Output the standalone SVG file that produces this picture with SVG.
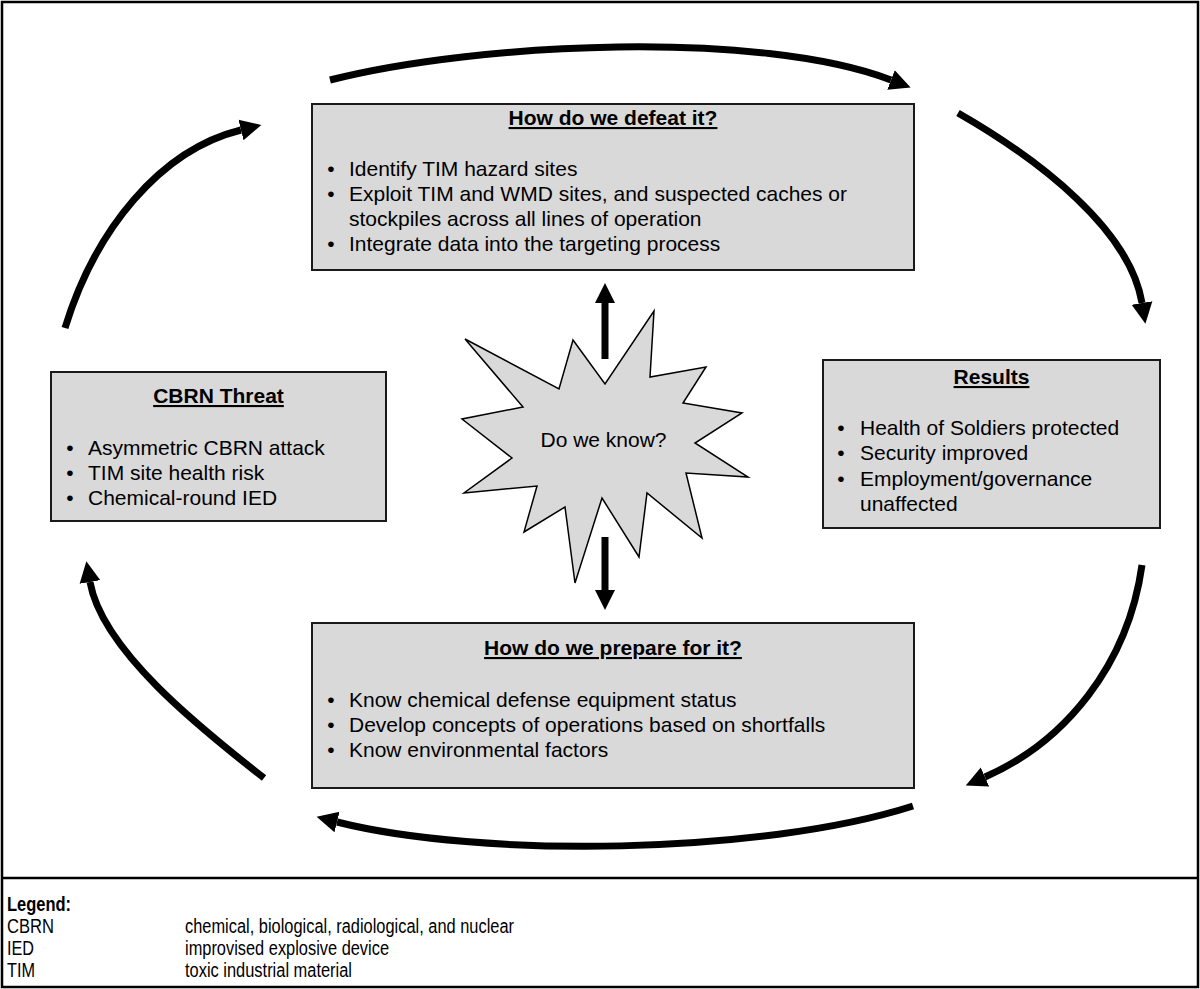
<svg xmlns="http://www.w3.org/2000/svg" width="1200" height="989" viewBox="0 0 1200 989">
<defs>
<style>
text{font-family:"Liberation Sans",Arial,sans-serif;fill:#000}
.t{font-size:21px;font-weight:bold;text-anchor:middle;text-decoration:underline}
.b{font-size:21px}
.d{font-size:21px;text-anchor:middle}
.box{fill:#d9d9d9;stroke:#1a1a1a;stroke-width:2}
.c{fill:none;stroke:#000;stroke-width:7;marker-end:url(#ah)}
.lg{font-family:"Liberation Sans Narrow","Liberation Sans",Arial,sans-serif;font-size:20px}
</style>
<marker id="ah" markerUnits="userSpaceOnUse" markerWidth="24" markerHeight="24" viewBox="0 -12 24 24" refX="0" refY="0" orient="auto">
<path d="M0,-10.5 L21,0 L0,10.5 z" fill="#000"/>
</marker>
</defs>
<rect x="0" y="0" width="1200" height="989" fill="#fff"/>
<rect x="2" y="2" width="1196" height="985" fill="none" stroke="#000" stroke-width="2.5"/>
<line x1="2" y1="878" x2="1198" y2="878" stroke="#000" stroke-width="2.5"/>

<g id="connectors">
<path class="c" d="M330,80 C480,42 760,30 891,80"/>
<path class="c" d="M958,113 C1040,160 1130,230 1142,303"/>
<path class="c" d="M1142,565 C1128,665 1065,742 985,777"/>
<path class="c" d="M913,806 C760,855 480,858 337,822"/>
<path class="c" d="M264,778 C200,728 102,650 90,582"/>
<path class="c" d="M65,328 C95,230 160,150 241,130"/>
<polygon points="601.5,359 601.5,303 595,303 605,283 615,303 608.5,303 608.5,359" fill="#000"/>
<polygon points="601.5,537 608.5,537 608.5,590 615,590 605,610 595,590 601.5,590" fill="#000"/>
</g>

<g id="defeat">
<rect class="box" x="312" y="104" width="602" height="166"/>
<text class="t" x="613" y="125">How do we defeat it?</text>
<text class="d" x="331" y="176">•</text><text class="b" x="349" y="176">Identify TIM hazard sites</text>
<text class="d" x="331" y="201">•</text><text class="b" x="349" y="201">Exploit TIM and WMD sites, and suspected caches or</text>
<text class="b" x="349" y="226">stockpiles across all lines of operation</text>
<text class="d" x="331" y="251">•</text><text class="b" x="349" y="251">Integrate data into the targeting process</text>
</g>

<g id="threat">
<rect class="box" x="51" y="372" width="335" height="149"/>
<text class="t" x="218.5" y="403">CBRN Threat</text>
<text class="d" x="70" y="455">•</text><text class="b" x="88" y="455">Asymmetric CBRN attack</text>
<text class="d" x="70" y="480">•</text><text class="b" x="88" y="480">TIM site health risk</text>
<text class="d" x="70" y="505">•</text><text class="b" x="88" y="505">Chemical-round IED</text>
</g>

<g id="know">
<polygon points="465,339 559,389 573,340 605,384 654,311 650,377 706,367 683,403 742,413 695,443 748,477 686,473 702,538 647,493 639,557 602,498 575,583 565,507 524,532 537,486 464,493 512,458 462,419 523,407" fill="#d9d9d9" stroke="#000" stroke-width="1.5" stroke-linejoin="miter"/>
<text class="d" x="603.5" y="447">Do we know?</text>
</g>

<g id="results">
<rect class="box" x="823" y="360" width="337" height="168"/>
<text class="t" x="991.5" y="384">Results</text>
<text class="d" x="841" y="435">•</text><text class="b" x="860" y="435">Health of Soldiers protected</text>
<text class="d" x="841" y="460">•</text><text class="b" x="860" y="460">Security improved</text>
<text class="d" x="841" y="486">•</text><text class="b" x="860" y="486">Employment/governance</text>
<text class="b" x="860" y="511">unaffected</text>
</g>

<g id="prepare">
<rect class="box" x="312" y="623" width="602" height="165"/>
<text class="t" x="613" y="655">How do we prepare for it?</text>
<text class="d" x="331" y="707">•</text><text class="b" x="349" y="707">Know chemical defense equipment status</text>
<text class="d" x="331" y="732">•</text><text class="b" x="349" y="732">Develop concepts of operations based on shortfalls</text>
<text class="d" x="331" y="757">•</text><text class="b" x="349" y="757">Know environmental factors</text>
</g>

<g id="legend">
<text class="lg" x="7" y="911" font-weight="bold" textLength="64" lengthAdjust="spacingAndGlyphs">Legend:</text>
<text class="lg" x="7" y="933" textLength="47" lengthAdjust="spacingAndGlyphs">CBRN</text>
<text class="lg" x="185" y="933" textLength="329" lengthAdjust="spacingAndGlyphs">chemical, biological, radiological, and nuclear</text>
<text class="lg" x="7" y="955" textLength="27" lengthAdjust="spacingAndGlyphs">IED</text>
<text class="lg" x="185" y="955" textLength="204" lengthAdjust="spacingAndGlyphs">improvised explosive device</text>
<text class="lg" x="7" y="977" textLength="28" lengthAdjust="spacingAndGlyphs">TIM</text>
<text class="lg" x="185" y="977" textLength="167" lengthAdjust="spacingAndGlyphs">toxic industrial material</text>
</g>
</svg>
